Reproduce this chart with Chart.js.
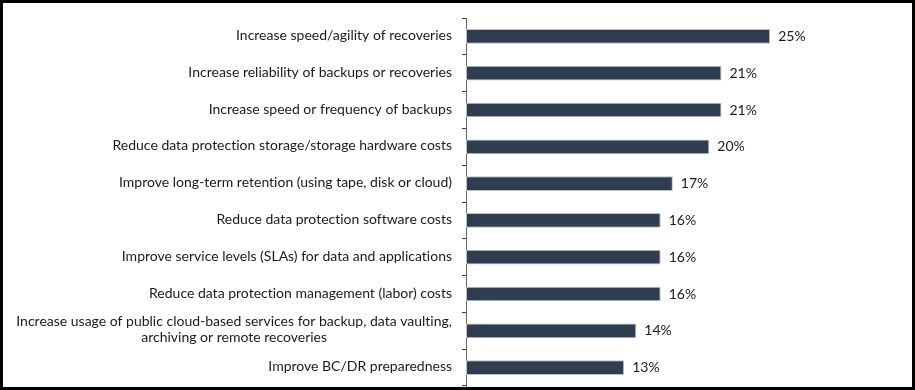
<!DOCTYPE html>
<html>
<head>
<meta charset="utf-8">
<script src="https://cdn.jsdelivr.net/npm/chart.js@4.4.1/dist/chart.umd.min.js"></script>
<style>
  html, body { margin: 0; padding: 0; background: #fff; }
  #frame { width: 909px; height: 384px; border: 3px solid #000; position: relative; background: #fff; }
  canvas { display: block; }
</style>
</head>
<body>
<div id="frame"><canvas id="chart" width="909" height="384"></canvas></div>
<script>
const categories = [
  ['Increase speed/agility of recoveries'],
  ['Increase reliability of backups or recoveries'],
  ['Increase speed or frequency of backups'],
  ['Reduce data protection storage/storage hardware costs'],
  ['Improve long-term retention (using tape, disk or cloud)'],
  ['Reduce data protection software costs'],
  ['Improve service levels (SLAs) for data and applications'],
  ['Reduce data protection management (labor) costs'],
  ['Increase usage of public cloud-based services for backup, data vaulting,', 'archiving or remote recoveries'],
  ['Improve BC/DR preparedness']
];
const values = [25, 21, 21, 20, 17, 16, 16, 16, 14, 13];

const FONT = '14px Lato, "Open Sans", sans-serif';

// category labels on the left, right aligned, multi-line ones centred on their widest line
const categoryLabels = {
  id: 'categoryLabels',
  afterDraw(chart) {
    const ctx = chart.ctx;
    const y = chart.scales.y;
    const right = chart.chartArea.left - 14;
    ctx.save();
    ctx.font = FONT;
    ctx.textRendering = 'optimizeSpeed';
    ctx.fillStyle = '#1a1a1a';
    ctx.textBaseline = 'middle';
    categories.forEach((lines, i) => {
      const cy = y.getPixelForValue(i);
      const widths = lines.map(l => ctx.measureText(l).width);
      const maxW = Math.max(...widths);
      const lh = 16;
      lines.forEach((l, j) => {
        const ly = cy + (j - (lines.length - 1) / 2) * lh - 1;
        ctx.textAlign = 'center';
        ctx.fillText(l, right - maxW / 2, ly);
      });
    });
    ctx.restore();
  }
};

// percentage labels after each bar
const valueLabels = {
  id: 'valueLabels',
  afterDatasetsDraw(chart) {
    const ctx = chart.ctx;
    const meta = chart.getDatasetMeta(0);
    ctx.save();
    ctx.font = FONT;
    ctx.fillStyle = '#1a1a1a';
    ctx.textAlign = 'left';
    ctx.textBaseline = 'middle';
    meta.data.forEach((bar, i) => {
      ctx.fillText(values[i] + '%', bar.x + 8, bar.y);
    });
    ctx.restore();
  }
};

new Chart(document.getElementById('chart'), {
  type: 'bar',
  data: {
    labels: categories.map(c => c.join(' ')),
    datasets: [{
      data: values,
      backgroundColor: '#2e3d4f',
      borderColor: '#b9c0c8',
      borderWidth: 1,
      borderSkipped: false,
      categoryPercentage: 1,
      barPercentage: 0.4
    }]
  },
  options: {
    indexAxis: 'y',
    responsive: false,
    animation: false,
    layout: { padding: { top: 15, bottom: 1, left: 0, right: 81 } },
    plugins: { legend: { display: false }, tooltip: { enabled: false } },
    scales: {
      x: { display: false, min: 0, max: 30 },
      y: {
        afterFit: s => { s.width = 463; },
        ticks: { display: false },
        grid: { drawOnChartArea: false, drawTicks: true, tickLength: 4, color: '#333', offset: true },
        border: { display: true, color: '#666', width: 1 }
      }
    }
  },
  plugins: [categoryLabels, valueLabels]
});
</script>
</body>
</html>
